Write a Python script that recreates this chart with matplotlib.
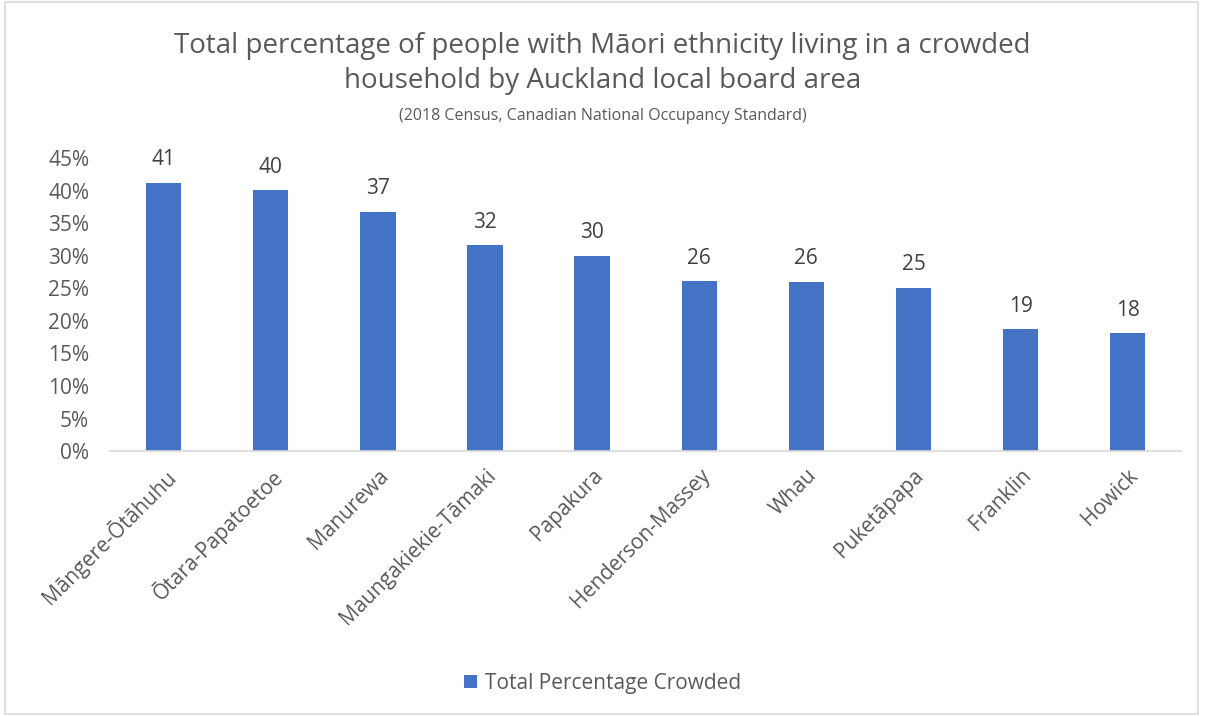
import matplotlib.pyplot as plt
from matplotlib.patches import Rectangle
from matplotlib.ticker import FuncFormatter

plt.rcParams['font.family'] = ['Open Sans', 'DejaVu Sans']

# Дані
areas = ['Māngere-Ōtāhuhu', 'Ōtara-Papatoetoe', 'Manurewa', 'Maungakiekie-Tāmaki',
         'Papakura', 'Henderson-Massey', 'Whau', 'Puketāpapa', 'Franklin', 'Howick']
crowded = [41.2, 40.1, 36.8, 31.6, 30.0, 26.1, 26.0, 25.1, 18.7, 18.1]

fig = plt.figure(figsize=(12.05, 7.16), dpi=100)
ax = fig.add_axes([0.0913, 0.370, 0.889, 0.409])

bars = ax.bar(range(len(areas)), crowded, width=0.33, color='#4472C4',
              label='Total Percentage Crowded')
for b, v in zip(bars, crowded):
    ax.annotate(f'{v:.0f}', (b.get_x() + b.get_width() / 2, v),
                xytext=(0, 9), textcoords='offset points',
                ha='center', va='bottom', fontsize=15, color='#404040')

ax.set_xlim(-0.5, len(areas) - 0.5)
ax.set_ylim(0, 45)
ax.set_yticks(range(0, 46, 5))
ax.yaxis.set_major_formatter(FuncFormatter(lambda y, _: f'{y:.0f}%'))
ax.set_xticks(range(len(areas)))
ax.set_xticklabels(areas, rotation=45, ha='right', rotation_mode='anchor')
ax.tick_params(axis='both', length=0, labelsize=15, colors='#595959')
ax.tick_params(axis='x', pad=10)
ax.tick_params(axis='y', pad=15)
for s in ['top', 'right', 'left']:
    ax.spines[s].set_visible(False)
ax.spines['bottom'].set_color('#d9d9d9')
ax.spines['bottom'].set_linewidth(1.2)

fig.text(0.5, 0.911, 'Total percentage of people with Māori ethnicity living in a crowded\nhousehold by Auckland local board area',
         ha='center', va='center', fontsize=20, color='#595959', linespacing=1.35)
fig.text(0.5, 0.838, '(2018 Census, Canadian National Occupancy Standard)',
         ha='center', va='center', fontsize=11.5, color='#595959')

fig.legend(loc='center', bbox_to_anchor=(0.5, 0.046), frameon=False,
           fontsize=15, labelcolor='#595959', handlelength=0.6, handleheight=0.6,
           handletextpad=0.4)

fig.patches.append(Rectangle((0.004, 0.003), 0.99, 0.994, transform=fig.transFigure,
                             fill=False, edgecolor='#d9d9d9', linewidth=1.2))

fig.savefig('out.png', dpi=100)
